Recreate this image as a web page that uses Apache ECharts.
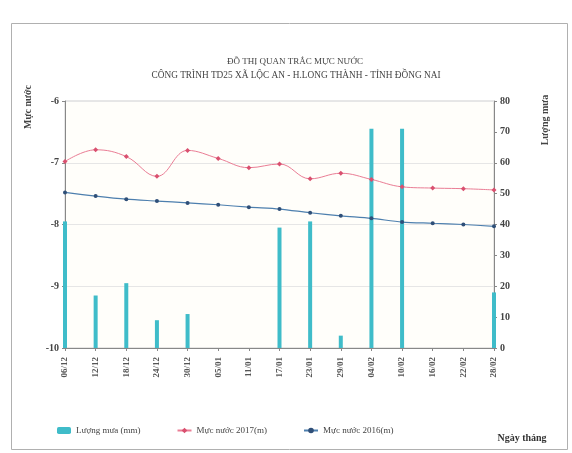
<!DOCTYPE html>
<html>
<head>
<meta charset="utf-8">
<script src="https://cdn.jsdelivr.net/npm/echarts@6/dist/echarts.min.js"></script>
<style>
html,body{margin:0;padding:0;background:#fff;}
#c{width:572px;height:453px;}
</style>
</head>
<body>
<div id="c"></div>
<script>
var categories = ['06/12','12/12','18/12','24/12','30/12','05/01','11/01','17/01','23/01','29/01','04/02','10/02','16/02','22/02','28/02'];
var rainfall = [41, 17, 21, 9, 11, null, null, 39, 41, 4, 71, 71, null, null, 18];
var level2017 = [-6.98, -6.79, -6.90, -7.22, -6.80, -6.93, -7.08, -7.02, -7.26, -7.17, -7.27, -7.39, -7.41, -7.42, -7.44];
var level2016 = [-7.48, -7.54, -7.59, -7.62, -7.65, -7.68, -7.72, -7.75, -7.81, -7.86, -7.90, -7.96, -7.98, -8.00, -8.03];
var leftTicks = {min: -10, max: -6, interval: 1};
var rightTicks = {min: 0, max: 80, interval: 10};

var serif = '"Liberation Serif", "DejaVu Serif", serif';
var chart = echarts.init(document.getElementById('c'));
chart.setOption({
  backgroundColor: '#ffffff',
  animation: false,
  title: [
    {text: 'ĐỒ THỊ QUAN TRẮC MỰC NƯỚC', left: 290, top: 52, textAlign: 'center',
     textStyle: {fontFamily: serif, fontSize: 9, fontWeight: 'normal', color: '#444'}},
    {text: 'CÔNG TRÌNH TD25 XÃ LỘC AN - H.LONG THÀNH - TỈNH ĐỒNG NAI', left: 291, top: 66, textAlign: 'center',
     textStyle: {fontFamily: serif, fontSize: 9.3, fontWeight: 'normal', color: '#444'}}
  ],
  grid: {left: 65, right: 78, top: 101, bottom: 105, show: true, borderColor: '#cfcfcf', borderWidth: 1, backgroundColor: '#fffefa'},
  legend: {
    left: 52, top: 421, itemGap: 36, itemWidth: 14, itemHeight: 7,
    textStyle: {fontFamily: serif, fontSize: 9, color: '#444'},
    data: ['Lượng mưa (mm)', 'Mực nước 2017(m)', 'Mực nước 2016(m)']
  },
  xAxis: {
    type: 'category', data: categories, boundaryGap: false,
    axisLine: {lineStyle: {color: '#888'}},
    axisTick: {show: true, length: 3, lineStyle: {color: '#888'}},
    axisLabel: {rotate: 90, fontFamily: serif, fontSize: 9, fontWeight: 'bold', color: '#555', margin: 9},
    splitLine: {show: false}
  },
  yAxis: [
    {type: 'value', min: leftTicks.min, max: leftTicks.max, interval: leftTicks.interval,
     axisLine: {show: true, lineStyle: {color: '#888'}},
     axisTick: {show: true, length: 3, lineStyle: {color: '#888'}},
     axisLabel: {fontFamily: serif, fontSize: 10, fontWeight: 'bold', color: '#444', margin: 6},
     splitLine: {show: true, lineStyle: {color: '#e6e6e6'}}},
    {type: 'value', min: rightTicks.min, max: rightTicks.max, interval: rightTicks.interval,
     axisLine: {show: true, lineStyle: {color: '#888'}},
     axisTick: {show: true, length: 3, lineStyle: {color: '#888'}},
     axisLabel: {fontFamily: serif, fontSize: 10, fontWeight: 'bold', color: '#444', margin: 6},
     splitLine: {show: false}}
  ],
  series: [
    {name: 'Lượng mưa (mm)', type: 'bar', xAxisIndex: 0, yAxisIndex: 1, data: rainfall, barWidth: 4,
     itemStyle: {color: '#3fbcc9'}},
    {name: 'Mực nước 2017(m)', type: 'line', yAxisIndex: 0, data: level2017, smooth: 0.4,
     symbol: 'diamond', symbolSize: 5, lineStyle: {color: '#ea7d95', width: 1},
     itemStyle: {color: '#d9506f'}},
    {name: 'Mực nước 2016(m)', type: 'line', yAxisIndex: 0, data: level2016, smooth: 0.3,
     symbol: 'circle', symbolSize: 4, lineStyle: {color: '#4d7fae', width: 1.2},
     itemStyle: {color: '#2f4f78'}}
  ],
  graphic: [
    {type: 'rect', left: 9, top: 21, shape: {width: 556, height: 426}, silent: true, z: -10,
     style: {fill: 'none', stroke: '#b0b0b0', lineWidth: 1}},
    {type: 'text', x: 28, y: 107, rotation: Math.PI / 2, silent: true,
     style: {text: 'Mực nước', fontFamily: serif, fontSize: 10, fontWeight: 'bold', fill: '#444', align: 'center', verticalAlign: 'middle'}},
    {type: 'text', x: 545, y: 120, rotation: Math.PI / 2, silent: true,
     style: {text: 'Lượng mưa', fontFamily: serif, fontSize: 10, fontWeight: 'bold', fill: '#444', align: 'center', verticalAlign: 'middle'}},
    {type: 'text', x: 522, y: 438, silent: true,
     style: {text: 'Ngày tháng', fontFamily: serif, fontSize: 10, fontWeight: 'bold', fill: '#333', align: 'center', verticalAlign: 'middle'}}
  ]
});
</script>
</body>
</html>
